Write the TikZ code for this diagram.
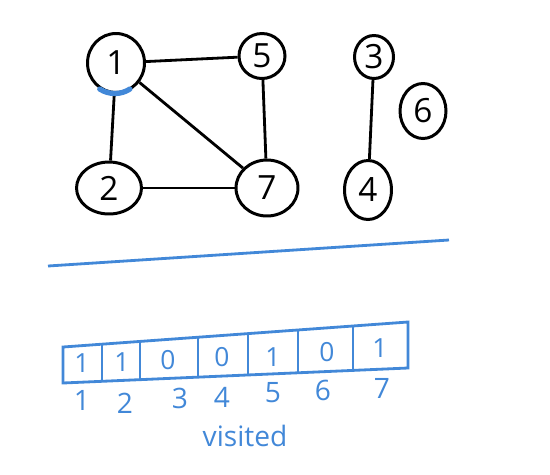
\documentclass[tikz,border=0pt]{standalone}
\usepackage{fontspec}
\setmainfont{Open Sans}
\usetikzlibrary{shapes.geometric, calc}

\definecolor{penblue}{RGB}{66,136,216}

\tikzset{
  vertex/.style = {draw, ellipse, line width = 1.7pt, inner sep = 0pt,
    font = \fontsize{19}{19}\selectfont},
  edge/.style = {line width = 1.6pt},
  bluepen/.style = {draw = penblue, line width = 1.6pt},
  cellval/.style = {text = penblue, inner sep = 0pt,
    font = \fontsize{15}{15}\selectfont},
  cellidx/.style = {text = penblue, inner sep = 0pt,
    font = \fontsize{16}{16}\selectfont}
}

\begin{document}
\begin{tikzpicture}[x = 0.02cm, y = -0.02cm]
  \useasboundingbox (0, 0) rectangle (550, 474);

  % graph
  \node[vertex, minimum width = 1.14cm, minimum height = 1.18cm] (n1) at (116, 63) {1};
  \node[vertex, minimum width = 0.92cm, minimum height = 0.9cm] (n5) at (262, 56) {5};
  \node[vertex, minimum width = 1.3cm, minimum height = 1.04cm] (n2) at (109, 188) {2};
  \node[vertex, minimum width = 1.24cm, minimum height = 1.12cm] (n7) at (267, 188) {7};
  \node[vertex, minimum width = 0.78cm, minimum height = 0.86cm] (n3) at (374, 57) {3};
  \node[vertex, minimum width = 0.92cm, minimum height = 1.1cm] (n6) at (423, 111) {6};
  \node[vertex, minimum width = 0.94cm, minimum height = 1.18cm] (n4) at (368, 190) {4};

  \foreach \a/\b in {n1/n5, n1/n2, n1/n7, n5/n7, n2/n7, n3/n4} {
    \draw[edge] (\a) -- (\b);
  }

  % mark under 1
  \draw[draw = penblue, line width = 3pt, line cap = round]
    (n1.-122) arc[start angle = -122, end angle = -58,
      x radius = 0.57cm, y radius = 0.59cm];

  % separator
  \coordinate (sepL) at (48, 266);
  \coordinate (sepR) at (449, 240);
  \draw[bluepen] (sepL) -- (sepR);

  % visited array
  \coordinate (tl) at (63, 347);
  \coordinate (tr) at (408, 322);
  \coordinate (bl) at (63, 383);
  \coordinate (br) at (408, 368);
  \draw[bluepen] (tl) -- (tr) -- (br) -- (bl) -- cycle;
  \foreach \x in {102, 140, 198, 248, 298, 353} {
    \draw[bluepen] ($(tl)!{(\x-63)/345}!(tr)$) -- ($(bl)!{(\x-63)/345}!(br)$);
  }

  \foreach \v/\x/\y [count = \i] in
      {1/82/363, 1/122/362, 0/168/360, 0/222/357, 1/273/357, 0/327/352, 1/380/348} {
    \node[cellval] (v\i) at (\x, \y) {\v};
  }

  \foreach \x/\y [count = \i] in
      {82/400, 125/403, 180/398, 222/397, 273/393, 323/390, 382/388} {
    \node[cellidx] (i\i) at (\x, \y) {\i};
  }

  \node[cellidx] (visited) at (245, 436) {visited};

\end{tikzpicture}
\end{document}
